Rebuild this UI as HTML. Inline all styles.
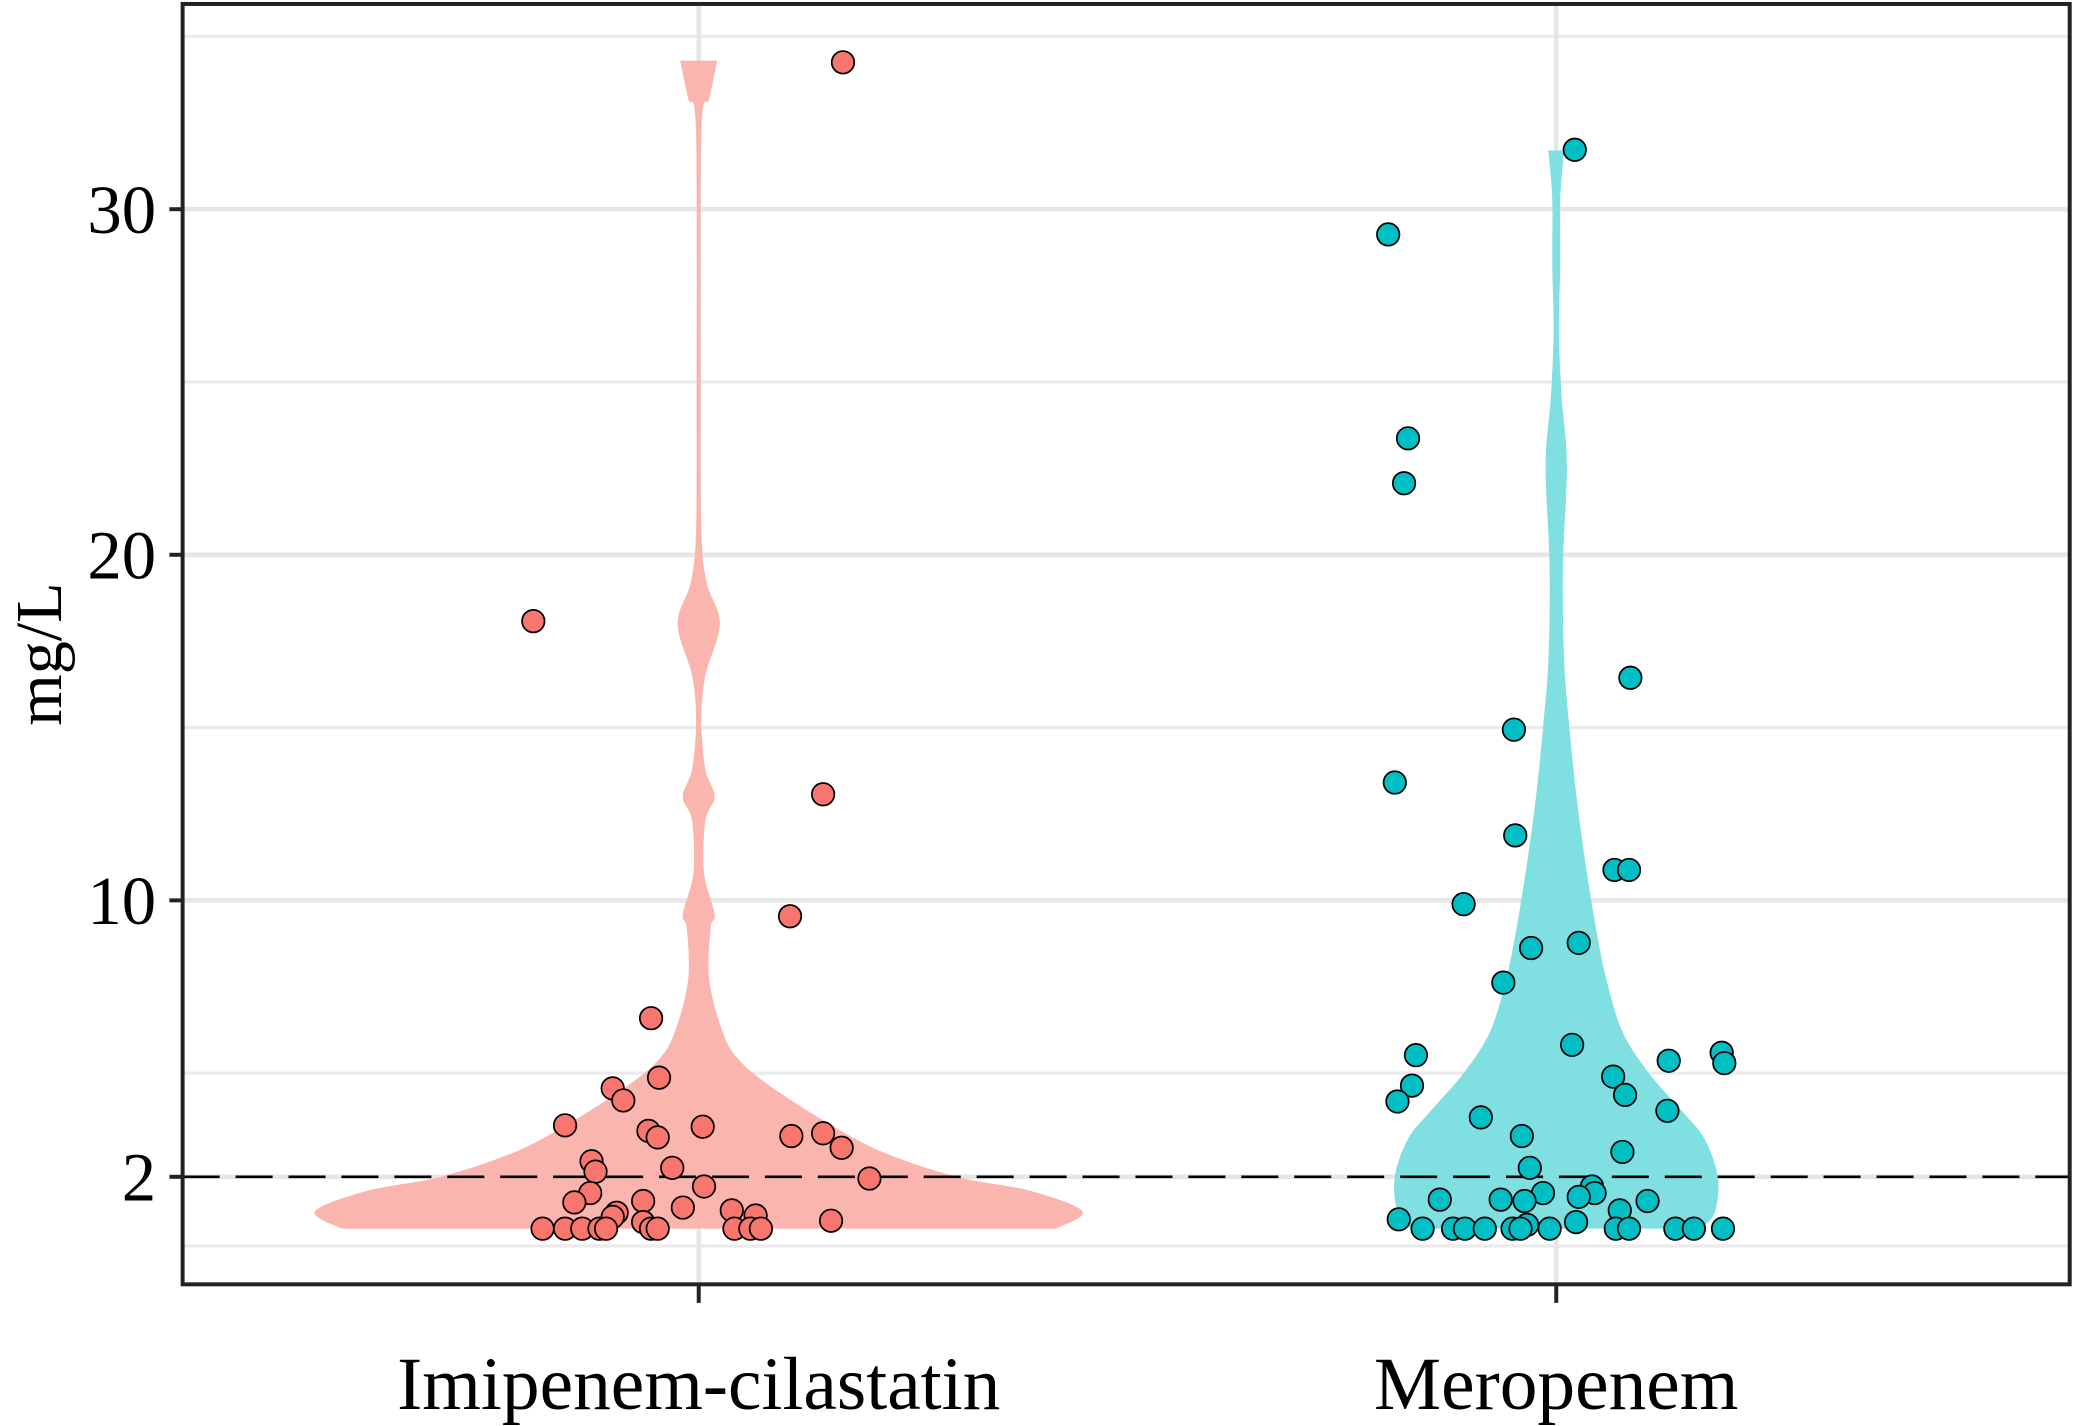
<!DOCTYPE html>
<html><head><meta charset="utf-8"><style>
html,body{margin:0;padding:0;background:#fff;}
svg{display:block;}
text{font-family:"Liberation Serif",serif;fill:#000;}
</style></head><body>
<svg id="chart" width="2075" height="1426" viewBox="0 0 1568 1077" preserveAspectRatio="none" xmlns="http://www.w3.org/2000/svg">
<g id="grid"></g>
<g id="violins"></g>
<g id="points"></g>
<g id="axes"></g>
</svg>
<script>
const categories = ["Imipenem-cilastatin","Meropenem"];
const yTicks = [2,10,20,30];
const yMinor = [0,5,15,25,35];
const refLine = 2;
// violin density profile: levels (mg/L) and half-widths (relative units)
const impLevels = [0.5,1.0,1.6,2.0,2.7,3.5,4.6,5.4,6.2,7.7,9.2,9.6,10.8,12.3,13.0,13.8,15.2,16.5,18.0,19.2,20.7,24.6,32.2,33.2,34.3];
const impWidths = [270,290,250,195,140,100,55,30,18,8,9,12,4,5,12,5,2,5,16,6,2,1.5,2,8,14];
const merLevels = [0.5,1.0,2.0,3.1,3.9,5.0,6.2,7.7,9.2,11.1,13.1,15.0,16.9,19.6,22.6,24.6,26.5,28.4,30.3,31.7];
const merWidths = [110,120,122,112,95,70,50,38,30,22,15,10,6,5,8,4,2,3,3,6];
// points
const impValues = [34.25,18.08,13.07,9.54,6.59,4.87,4.56,4.21,3.49,3.45,3.33,3.14,3.18,3.26,2.84,2.45,2.15,2.26,1.95,1.72,1.53,1.26,1.30,1.11,0.96,0.84,1.03,0.88,0.69,0.73,0.5,0.5,0.5,0.5,0.5,0.5,0.5,0.5,0.5,0.5];
const impJitter = [109,-125,94,69,-36,-30,-65,-57,-101,3,-38,-31,70,94,108,-81,-78,-20,129,4,-82,-94,-42,-12,-62,-65,25,43,-42,100,-118,-101,-88,-75,-70,-36,-31,27,39,47];
const merValues = [31.72,29.27,23.37,22.07,16.44,14.94,13.41,11.88,10.88,10.88,9.89,8.77,8.62,7.62,5.59,5.52,5.82,5.36,5.29,4.90,4.64,4.37,4.18,3.91,3.72,3.18,2.72,2.26,1.72,1.53,1.42,1.53,1.34,1.30,1.30,1.34,1.03,0.77,0.61,0.69,0.5,0.5,0.5,0.5,0.5,0.5,0.5,0.5,0.5,0.5,0.5,0.5];
const merJitter = [14,-127,-112,-115,56,-32,-122,-31,44,55,-70,17,-19,-40,125,-106,12,85,127,43,-109,52,-120,84,-57,-26,50,-20,27,29,17,-10,-42,-24,69,-88,48,-119,-22,15,-101,-78,-69,-54,-33,-27,-5,45,55,90,104,126];

const NS="http://www.w3.org/2000/svg";
const L=138,R=1564,T=3,B=970;
const xPos=[528,1176];
function y(v){return 941-26.1*v;}
function x(i){return xPos[i];}
function mk(tag,attrs,parent){const e=document.createElementNS(NS,tag);for(const k in attrs)e.setAttribute(k,attrs[k]);parent.appendChild(e);return e;}
const grid=document.getElementById('grid'),vio=document.getElementById('violins'),pts=document.getElementById('points'),axes=document.getElementById('axes');
mk('rect',{x:L,y:T,width:R-L,height:B-T,fill:'#fff'},grid);
yMinor.forEach(v=>{const l=mk('line',{x1:L,x2:R,y1:y(v),y2:y(v),stroke:'#ebebeb','stroke-width':2.5},grid);

});
yTicks.forEach(v=>{const l=mk('line',{x1:L,x2:R,y1:y(v),y2:y(v),stroke:'#e6e6e6','stroke-width':3.5},grid);

});
categories.forEach((c,i)=>{const l=mk('line',{x1:x(i),x2:x(i),y1:T,y2:B,stroke:'#e6e6e6','stroke-width':3.5},grid);

});
function smoothPath(pts){
  // Catmull-Rom to bezier through points
  let d='M'+pts[0][0]+','+pts[0][1];
  for(let k=0;k<pts.length-1;k++){
    const p0=pts[Math.max(0,k-1)],p1=pts[k],p2=pts[k+1],p3=pts[Math.min(pts.length-1,k+2)];
    const c1=[p1[0]+(p2[0]-p0[0])/6,p1[1]+(p2[1]-p0[1])/6];
    const c2=[p2[0]-(p3[0]-p1[0])/6,p2[1]-(p3[1]-p1[1])/6];
    d+=' C'+c1[0]+','+c1[1]+' '+c2[0]+','+c2[1]+' '+p2[0]+','+p2[1];
  }
  return d;
}
function violin(i,levels,widths,fill,name){
  const right=levels.map((v,k)=>[x(i)+widths[k],y(v)]);
  const left=levels.map((v,k)=>[x(i)-widths[k],y(v)]).reverse();
  const d=smoothPath(right)+' L'+left[0][0]+','+left[0][1]+' '+smoothPath(left).slice(1)+' Z';
  const p=mk('path',{d:d,fill:fill,stroke:'none'},vio);
  
  
}
violin(0,impLevels,impWidths,'#f9b5ae','violin-imipenem');
violin(1,merLevels,merWidths,'#7fdfe1','violin-meropenem');
const rl=mk('line',{x1:L,x2:R,y1:y(refLine),y2:y(refLine),stroke:'#000','stroke-width':2,'stroke-dasharray':'28,12'},vio);


function points(i,vals,jit,fill,name){
  vals.forEach((v,k)=>{const c=mk('circle',{cx:x(i)+jit[k],cy:y(v),r:8.5,fill:fill,stroke:'#000','stroke-width':1.3},pts);
  
  });
}
points(0,impValues,impJitter,'#f8766d','point-imipenem');
points(1,merValues,merJitter,'#00bfc4','point-meropenem');
const fr=mk('rect',{x:L,y:T,width:R-L,height:B-T,fill:'none',stroke:'#222','stroke-width':3},axes);


yTicks.forEach(v=>{mk('line',{x1:L-10,x2:L,y1:y(v),y2:y(v),stroke:'#222','stroke-width':3},axes);
const t=mk('text',{x:118,y:y(v)+18,'text-anchor':'end','font-size':52},axes);t.textContent=v;

});
categories.forEach((c,i)=>{mk('line',{x1:x(i),x2:x(i),y1:B,y2:B+14,stroke:'#222','stroke-width':3},axes);
const t=mk('text',{x:x(i),y:1064,'text-anchor':'middle','font-size':57},axes);t.textContent=c;

});
const yt=mk('text',{x:0,y:0,'text-anchor':'middle','font-size':50,transform:'translate(46,494) rotate(-90)'},axes);
yt.textContent='mg/L';


</script>
</body></html>
